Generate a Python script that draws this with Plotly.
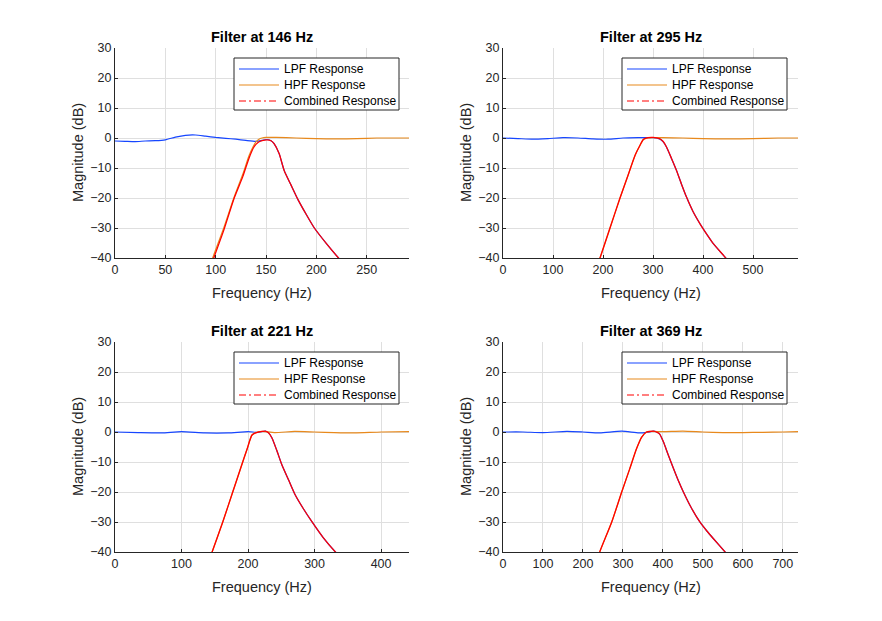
import plotly.graph_objects as go

W, H = 882, 621

# ---------------- data ----------------
titles = ["Filter at 146 Hz", "Filter at 295 Hz", "Filter at 221 Hz", "Filter at 369 Hz"]
x_max = [292, 590, 442, 738]
x_dtick = [50, 100, 100, 100]
legend_labels = ["LPF Response", "HPF Response", "Combined Response"]

# Filter at 146 Hz
lpf1_f = [0, 10, 20, 30, 40, 50, 60, 70, 80, 90, 100, 110, 120, 130, 140, 146, 150, 155, 158, 163, 168, 175, 182, 190, 198, 210, 222, 230]
lpf1_db = [-1.0, -1.1, -1.2, -1.0, -0.9, -0.6, 0.3, 0.9, 1.0, 0.6, 0.2, -0.1, -0.4, -0.8, -1.1, -0.8, -0.5, -0.9, -1.9, -5.2, -10.8, -15.8, -20.7, -25.5, -30.0, -35.2, -40.0, -43.0]
hpf1_f = [95, 97, 108, 118, 127, 133, 137, 140, 143, 146, 150, 160, 180, 200, 220, 240, 260, 280, 292]
hpf1_db = [-42.0, -40.0, -30.0, -20.0, -12.0, -6.0, -3.0, -1.3, -0.4, 0.0, 0.2, 0.2, 0.0, -0.2, -0.3, -0.2, 0.0, 0.0, 0.0]
cmb1_f = [95, 97, 108, 118, 127, 133, 138, 142, 146, 151, 155, 158, 163, 168, 175, 182, 190, 198, 210, 222, 230]
cmb1_db = [-43.0, -41.0, -30.8, -20.4, -12.8, -6.8, -3.0, -1.5, -0.9, -0.6, -0.9, -1.9, -5.2, -10.8, -15.8, -20.7, -25.5, -30.0, -35.2, -40.0, -43.0]

# Filter at 295 Hz
lpf2_f = [0, 30, 60, 90, 120, 150, 180, 210, 240, 270, 290, 300, 313, 320, 327, 337, 347, 357, 367, 380, 394, 408, 421, 444, 460]
lpf2_db = [0.0, -0.2, -0.4, -0.2, 0.1, 0.0, -0.3, -0.4, 0.0, 0.1, 0.1, 0.1, -0.3, -1.2, -3.0, -6.8, -10.8, -15.4, -19.7, -24.5, -28.6, -32.2, -35.3, -39.7, -43.0]
hpf2_f = [190, 194, 214, 234, 251, 264, 274, 281, 290, 300, 320, 360, 400, 450, 500, 550, 590]
hpf2_db = [-42.0, -40.0, -30.0, -20.0, -12.0, -5.8, -2.5, -0.5, 0.0, 0.1, 0.1, 0.0, -0.2, -0.3, -0.2, 0.0, 0.0]
cmb2_f = [190, 194, 214, 234, 251, 264, 274, 281, 290, 300, 313, 320, 327, 337, 347, 357, 367, 380, 394, 408, 421, 444, 460]
cmb2_db = [-42.0, -40.0, -30.0, -20.0, -12.0, -5.8, -2.4, -0.4, 0.1, 0.2, -0.2, -1.1, -3.0, -6.8, -10.8, -15.4, -19.7, -24.5, -28.6, -32.2, -35.3, -39.7, -43.0]

# Filter at 221 Hz
lpf3_f = [0, 35, 70, 100, 135, 170, 200, 215, 226, 231, 236, 243, 251, 261, 271, 283, 296, 313, 331, 345]
lpf3_db = [0.0, -0.2, -0.3, 0.1, -0.3, -0.3, 0.1, -0.1, 0.3, -0.3, -2.0, -6.0, -11.0, -16.0, -21.0, -25.5, -29.9, -35.2, -39.9, -43.0]
hpf3_f = [143, 146, 162, 177, 189, 199, 206, 214, 222, 240, 270, 300, 330, 360, 400, 442]
hpf3_db = [-42.0, -40.0, -30.0, -20.0, -12.0, -5.4, -1.0, 0.0, 0.2, -0.2, 0.2, 0.0, -0.2, -0.3, 0.0, 0.1]
cmb3_f = [143, 146, 162, 177, 189, 199, 206, 214, 222, 226, 231, 236, 243, 251, 261, 271, 283, 296, 313, 331, 345]
cmb3_db = [-42.0, -40.0, -30.0, -20.0, -12.0, -5.4, -1.0, -0.1, 0.2, 0.3, -0.3, -2.0, -6.0, -11.0, -16.0, -21.0, -25.5, -29.9, -35.2, -39.9, -43.0]

# Filter at 369 Hz
lpf4_f = [0, 50, 100, 160, 200, 242, 297, 340, 360, 376, 386, 392, 401, 413, 426, 438, 451, 470, 492, 510, 526, 555, 575]
lpf4_db = [0.0, 0.0, -0.2, 0.2, 0.0, -0.3, 0.3, -0.3, -0.1, 0.3, -0.1, -0.7, -3.2, -7.5, -12.0, -16.0, -19.9, -25.0, -29.9, -33.0, -35.5, -39.9, -43.0]
hpf4_f = [238, 242, 272, 297, 317, 334, 347, 359, 370, 400, 450, 500, 550, 600, 650, 700, 738]
hpf4_db = [-42.0, -40.0, -30.0, -20.0, -12.3, -5.6, -1.7, 0.0, 0.2, 0.1, 0.3, 0.0, -0.2, -0.2, -0.1, 0.0, 0.1]
cmb4_f = [238, 242, 272, 297, 317, 334, 347, 359, 370, 376, 386, 392, 401, 413, 426, 438, 451, 470, 492, 510, 526, 555, 575]
cmb4_db = [-42.0, -40.0, -30.0, -20.0, -12.3, -5.6, -1.7, 0.0, 0.2, 0.3, -0.1, -0.7, -3.2, -7.5, -12.0, -16.0, -19.9, -25.0, -29.9, -33.0, -35.5, -39.9, -43.0]

panels = [
    (lpf1_f, lpf1_db, hpf1_f, hpf1_db, cmb1_f, cmb1_db),
    (lpf2_f, lpf2_db, hpf2_f, hpf2_db, cmb2_f, cmb2_db),
    (lpf3_f, lpf3_db, hpf3_f, hpf3_db, cmb3_f, cmb3_db),
    (lpf4_f, lpf4_db, hpf4_f, hpf4_db, cmb4_f, cmb4_db),
]

# ---------------- layout geometry (pixels) ----------------
col_px = [(115, 409), (503, 798)]
row_px = [(48, 258), (342, 552)]

C_LPF = "#1646ff"
C_HPF = "#e8891c"
C_CMB = "#ff0000"
AX = "#262626"
FONT = "Liberation Sans, Arial, Helvetica, sans-serif"


def px(x):
    return x / W


def py(y):
    return 1 - y / H


fig = go.Figure()
annotations = []
shapes = []
layout = {}
colors = [C_LPF, C_HPF, C_CMB]
dashes = ["solid", "solid", "7px,3px,2px,3px"]

for i, (lf, ld, hf, hd, cf, cd) in enumerate(panels):
    r, c = divmod(i, 2)
    n = i + 1
    xa = "x" if n == 1 else f"x{n}"
    ya = "y" if n == 1 else f"y{n}"

    for fx, dy, col, w in ((lf, ld, C_LPF, 1.2), (hf, hd, C_HPF, 1.2), (cf, cd, C_CMB, 1.3)):
        fig.add_trace(go.Scatter(x=fx, y=dy, mode="lines", showlegend=False,
                                 line=dict(color=col, width=w, shape="spline", smoothing=0.6),
                                 xaxis=xa, yaxis=ya, hoverinfo="skip"))

    x0, x1 = col_px[c]
    y0, y1 = row_px[r]
    xkey = "xaxis" if n == 1 else f"xaxis{n}"
    ykey = "yaxis" if n == 1 else f"yaxis{n}"
    common = dict(showgrid=True, gridcolor="#dfdfdf", gridwidth=1,
                  showline=True, linecolor=AX, linewidth=1, mirror=False,
                  ticks="inside", ticklen=3, tickcolor=AX, zeroline=False,
                  tickfont=dict(family=FONT, size=12.5, color=AX),
                  automargin=False, fixedrange=True)
    layout[xkey] = dict(domain=[px(x0), px(x1)], range=[0, x_max[i]], dtick=x_dtick[i], tick0=0,
                        anchor=ya, **common)
    layout[ykey] = dict(domain=[py(y1), py(y0)], range=[-40, 30], dtick=10, tick0=0,
                        anchor=xa, **common)

    # legend box (drawn like the reference's boxed legend)
    dx = x0 - 115
    dyp = y0 - 48
    bx0, bx1, by0, by1 = 234 + dx, 399 + dx, 58 + dyp, 110 + dyp
    shapes.append(dict(type="rect", xref="paper", yref="paper",
                       x0=px(bx0), x1=px(bx1), y0=py(by1), y1=py(by0),
                       fillcolor="white", line=dict(color=AX, width=1), layer="above"))
    for k, lab in enumerate(legend_labels):
        yy = 69 + 16 * k + dyp
        shapes.append(dict(type="line", xref="paper", yref="paper",
                           x0=px(239 + dx), x1=px(279 + dx), y0=py(yy), y1=py(yy),
                           line=dict(color=colors[k], width=1.2, dash=dashes[k]), layer="above"))
        annotations.append(dict(text=lab, x=px(282 + dx), y=py(yy), xref="paper", yref="paper",
                                showarrow=False, xanchor="left", yanchor="middle",
                                font=dict(family=FONT, size=12, color="black")))

    xc = (x0 + x1) / 2
    annotations.append(dict(text=f"<b>{titles[i]}</b>", x=px(xc), y=py(y0 - 11),
                            xref="paper", yref="paper", showarrow=False,
                            xanchor="center", yanchor="middle",
                            font=dict(family=FONT, size=14.5, color="black")))
    annotations.append(dict(text="Frequency (Hz)", x=px(xc), y=py(y1 + 35),
                            xref="paper", yref="paper", showarrow=False,
                            xanchor="center", yanchor="middle",
                            font=dict(family=FONT, size=14.5, color=AX)))
    annotations.append(dict(text="Magnitude (dB)", x=px(x0 - 37), y=py((y0 + y1) / 2),
                            xref="paper", yref="paper", showarrow=False, textangle=-90,
                            xanchor="center", yanchor="middle",
                            font=dict(family=FONT, size=14.5, color=AX)))

fig.update_layout(width=W, height=H, margin=dict(l=0, r=0, t=0, b=0, autoexpand=False),
                  paper_bgcolor="white", plot_bgcolor="white", showlegend=False,
                  annotations=annotations, shapes=shapes, **layout)

fig.write_html("out.html", config={"displayModeBar": False})
